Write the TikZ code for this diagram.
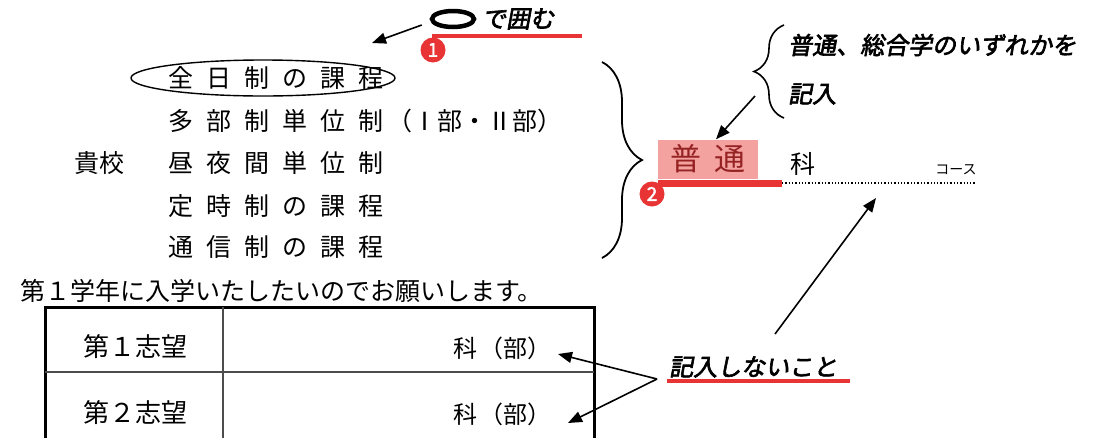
\documentclass[tikz,border=0pt]{standalone}
\usepackage{fontspec}
\usepackage{tikz}
\usetikzlibrary{arrows.meta,decorations.pathreplacing,shapes.geometric}
\setmainfont{Noto Sans CJK JP}
\newfontfamily\notefont[FakeSlant=0.18,FakeBold=2.6]{Noto Sans CJK JP}
\newfontfamily\dotfont[FakeBold=2]{Noto Sans CJK JP}
\definecolor{markred}{RGB}{232,52,52}
\definecolor{boxpink}{RGB}{244,162,160}
\definecolor{textred}{RGB}{150,35,35}
\newcommand\kk{\hspace{13pt}}

\begin{document}
\begin{tikzpicture}[x=1pt,y=-1pt,
    pointer/.style={-{Triangle[length=14pt,width=11pt]},line width=1.6pt},
    numdot/.style={circle,fill=markred,text=white,inner sep=0pt,minimum size=25pt,font=\dotfont\fontsize{19}{19}\selectfont},
    note/.style={font=\notefont\fontsize{24}{24}\selectfont,inner sep=0pt,anchor=west},
    row/.style={font=\fontsize{25}{25}\selectfont,inner sep=0pt,anchor=west},
    redline/.style={markred,line width=4.5pt}]
                \useasboundingbox (0,0) rectangle (1106,437);
                \clip (0,0) rectangle (1106,437);
                % marking instruction
                \node[draw,ellipse,line width=4.5pt,minimum width=42pt,minimum height=16pt] (maru) at (453,19) {};
                \node[note] (kakomu) at (482,19) {で囲む};
                \draw[redline] (432,36) -- (582,36);
                \node[numdot] (n1) at (433,50) {1};
                \coordinate (t1) at (372,43);
                \draw[pointer] (maru.west) ++(-8,6) -- (t1);
                % courses
                \node[draw,ellipse,line width=1.4pt,minimum width=264pt,minimum height=36pt] (zen) at (263,78) {};
                \node[row] (r1) at (168,78) {全\kk 日\kk 制\kk の\kk 課\kk 程};
                \node[row] (r2) at (168,121) {多\kk 部\kk 制\kk 単\kk 位\kk 制\hspace{4pt}（Ⅰ部・Ⅱ部）};
                \node[row] (r3) at (168,163) {昼\kk 夜\kk 間\kk 単\kk 位\kk 制};
                \node[row] (r4) at (168,206) {定\kk 時\kk 制\kk の\kk 課\kk 程};
                \node[row] (r5) at (168,247) {通\kk 信\kk 制\kk の\kk 課\kk 程};
                \node[row] (kiko) at (74,163) {貴校};
                \draw[decorate,decoration={brace,amplitude=40pt},line width=1.8pt] (602,62) -- (602,258);
                % department
                \node[fill=boxpink,text=textred,minimum width=100pt,minimum height=39pt,inner sep=0pt,font=\fontsize{31}{31}\selectfont] (futsu) at (708,159) {普\hspace{14pt}通};
                \draw[markred,line width=7pt] (658,183) -- (782,183);
                \node[numdot] (n2) at (652,194) {2};
                \node[row] (ka) at (790,164) {科};
                \draw[line width=1.3pt,dotted] (782,183) -- (975,183);
                \node[font=\fontsize{14}{14}\selectfont,inner sep=0pt] (course) at (956,170) {コース};
                \draw[decorate,decoration={brace,amplitude=30pt},line width=1.6pt] (784,118) -- (784,25);
                \node[note] (futsunote) at (788,45) {普通、総合学のいずれかを};
                \node[note] (kinyu) at (788,94) {記入};
                \coordinate (f1) at (755,96);
                \draw[pointer] (f1) -- ([xshift=8pt]futsu.north);
                % first line
                \node[row] (negai) at (20,291) {第１学年に入学いたしたいのでお願いします。};
                % table
                \draw[line width=3pt] (45,450) -- (45,307) -- (594,307) -- (594,450);
                \draw[line width=1.3pt,black!70] (45,372) -- (594,372);
                \draw[line width=1.3pt,black!70] (223,307) -- (223,450);
                \node[font=\fontsize{26}{26}\selectfont,inner sep=0pt] (shibo1) at (135,347) {第１志望};
                \node[font=\fontsize{26}{26}\selectfont,inner sep=0pt] (shibo2) at (135,413) {第２志望};
                \node[font=\fontsize{24}{24}\selectfont,inner sep=0pt,anchor=east] (bu1) at (552,348) {科\hspace{2pt}（部）};
                \node[font=\fontsize{24}{24}\selectfont,inner sep=0pt,anchor=east] (bu2) at (552,414) {科\hspace{2pt}（部）};
                % do not fill
                \node[note] (nashi) at (669,367) {記入しないこと};
                \draw[redline] (667,381) -- (850,381);
                \coordinate (v) at (657,379);
                \draw[pointer] (v) -- ([xshift=6pt,yshift=-6pt]bu1.east);
                \draw[pointer] (v) -- ([xshift=16pt,yshift=-9pt]bu2.east);
                \coordinate (s) at (775,334);
                \draw[pointer] (s) -- (876,198);
            \end{tikzpicture}
\end{document}
